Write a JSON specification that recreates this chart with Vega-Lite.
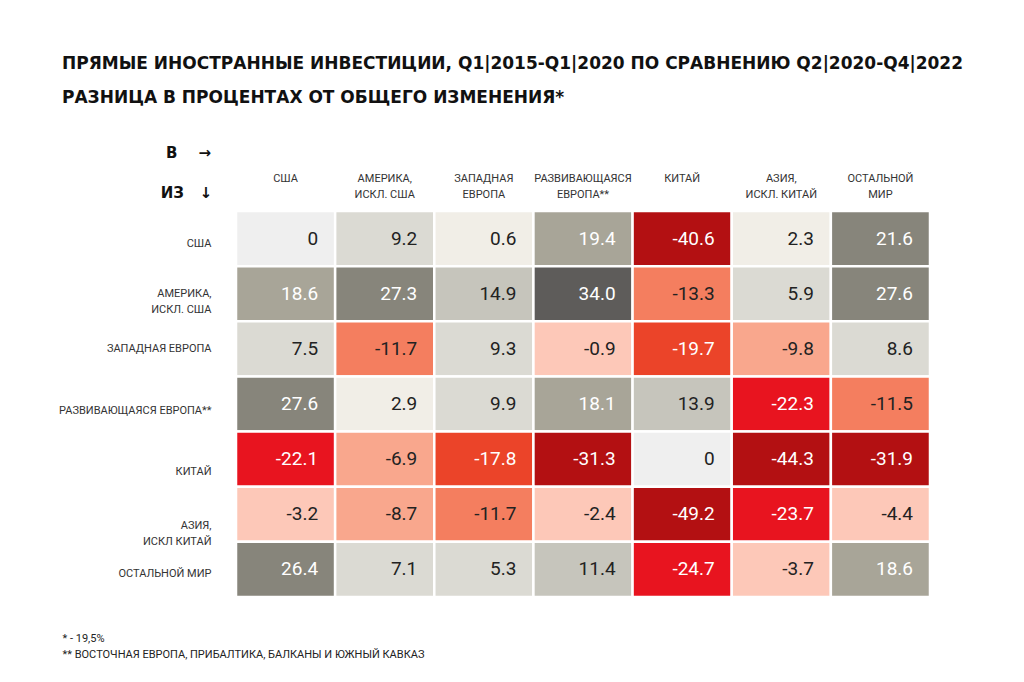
{
  "$schema": "https://vega.github.io/schema/vega-lite/v6.json",
  "width": 694,
  "height": 386,
  "autosize": {"type": "none"},
  "padding": {"left": 236, "top": 211, "right": 94, "bottom": 85},
  "background": "white",
  "config": {
    "view": {"stroke": null},
    "locale": {"number": {"decimal": ".", "thousands": ",", "grouping": [3], "currency": ["", ""], "minus": "-"}}
  },
  "title": {
    "text": "ПРЯМЫЕ ИНОСТРАННЫЕ ИНВЕСТИЦИИ, Q1|2015-Q1|2020 ПО СРАВНЕНИЮ Q2|2020-Q4|2022",
    "subtitle": "РАЗНИЦА В ПРОЦЕНТАХ ОТ ОБЩЕГО ИЗМЕНЕНИЯ*",
    "anchor": "start",
    "frame": "group",
    "dx": -174,
    "offset": 38,
    "font": "DejaVu Sans",
    "fontSize": 17,
    "fontWeight": "bold",
    "color": "#111111",
    "subtitleFont": "DejaVu Sans",
    "subtitleFontSize": 17,
    "subtitleFontWeight": "bold",
    "subtitleColor": "#111111",
    "subtitlePadding": 17
  },
  "data": {
    "values": [
      {"from": "США", "to": "США", "v": 0},
      {"from": "США", "to": "АМЕРИКА, ИСКЛ. США", "v": 9.2},
      {"from": "США", "to": "ЗАПАДНАЯ ЕВРОПА", "v": 0.6},
      {"from": "США", "to": "РАЗВИВАЮЩАЯСЯ ЕВРОПА**", "v": 19.4},
      {"from": "США", "to": "КИТАЙ", "v": -40.6},
      {"from": "США", "to": "АЗИЯ, ИСКЛ. КИТАЙ", "v": 2.3},
      {"from": "США", "to": "ОСТАЛЬНОЙ МИР", "v": 21.6},
      {"from": "АМЕРИКА, ИСКЛ. США", "to": "США", "v": 18.6},
      {"from": "АМЕРИКА, ИСКЛ. США", "to": "АМЕРИКА, ИСКЛ. США", "v": 27.3},
      {"from": "АМЕРИКА, ИСКЛ. США", "to": "ЗАПАДНАЯ ЕВРОПА", "v": 14.9},
      {"from": "АМЕРИКА, ИСКЛ. США", "to": "РАЗВИВАЮЩАЯСЯ ЕВРОПА**", "v": 34.0},
      {"from": "АМЕРИКА, ИСКЛ. США", "to": "КИТАЙ", "v": -13.3},
      {"from": "АМЕРИКА, ИСКЛ. США", "to": "АЗИЯ, ИСКЛ. КИТАЙ", "v": 5.9},
      {"from": "АМЕРИКА, ИСКЛ. США", "to": "ОСТАЛЬНОЙ МИР", "v": 27.6},
      {"from": "ЗАПАДНАЯ ЕВРОПА", "to": "США", "v": 7.5},
      {"from": "ЗАПАДНАЯ ЕВРОПА", "to": "АМЕРИКА, ИСКЛ. США", "v": -11.7},
      {"from": "ЗАПАДНАЯ ЕВРОПА", "to": "ЗАПАДНАЯ ЕВРОПА", "v": 9.3},
      {"from": "ЗАПАДНАЯ ЕВРОПА", "to": "РАЗВИВАЮЩАЯСЯ ЕВРОПА**", "v": -0.9},
      {"from": "ЗАПАДНАЯ ЕВРОПА", "to": "КИТАЙ", "v": -19.7},
      {"from": "ЗАПАДНАЯ ЕВРОПА", "to": "АЗИЯ, ИСКЛ. КИТАЙ", "v": -9.8},
      {"from": "ЗАПАДНАЯ ЕВРОПА", "to": "ОСТАЛЬНОЙ МИР", "v": 8.6},
      {"from": "РАЗВИВАЮЩАЯСЯ ЕВРОПА**", "to": "США", "v": 27.6},
      {"from": "РАЗВИВАЮЩАЯСЯ ЕВРОПА**", "to": "АМЕРИКА, ИСКЛ. США", "v": 2.9},
      {"from": "РАЗВИВАЮЩАЯСЯ ЕВРОПА**", "to": "ЗАПАДНАЯ ЕВРОПА", "v": 9.9},
      {"from": "РАЗВИВАЮЩАЯСЯ ЕВРОПА**", "to": "РАЗВИВАЮЩАЯСЯ ЕВРОПА**", "v": 18.1},
      {"from": "РАЗВИВАЮЩАЯСЯ ЕВРОПА**", "to": "КИТАЙ", "v": 13.9},
      {"from": "РАЗВИВАЮЩАЯСЯ ЕВРОПА**", "to": "АЗИЯ, ИСКЛ. КИТАЙ", "v": -22.3},
      {"from": "РАЗВИВАЮЩАЯСЯ ЕВРОПА**", "to": "ОСТАЛЬНОЙ МИР", "v": -11.5},
      {"from": "КИТАЙ", "to": "США", "v": -22.1},
      {"from": "КИТАЙ", "to": "АМЕРИКА, ИСКЛ. США", "v": -6.9},
      {"from": "КИТАЙ", "to": "ЗАПАДНАЯ ЕВРОПА", "v": -17.8},
      {"from": "КИТАЙ", "to": "РАЗВИВАЮЩАЯСЯ ЕВРОПА**", "v": -31.3},
      {"from": "КИТАЙ", "to": "КИТАЙ", "v": 0},
      {"from": "КИТАЙ", "to": "АЗИЯ, ИСКЛ. КИТАЙ", "v": -44.3},
      {"from": "КИТАЙ", "to": "ОСТАЛЬНОЙ МИР", "v": -31.9},
      {"from": "АЗИЯ, ИСКЛ КИТАЙ", "to": "США", "v": -3.2},
      {"from": "АЗИЯ, ИСКЛ КИТАЙ", "to": "АМЕРИКА, ИСКЛ. США", "v": -8.7},
      {"from": "АЗИЯ, ИСКЛ КИТАЙ", "to": "ЗАПАДНАЯ ЕВРОПА", "v": -11.7},
      {"from": "АЗИЯ, ИСКЛ КИТАЙ", "to": "РАЗВИВАЮЩАЯСЯ ЕВРОПА**", "v": -2.4},
      {"from": "АЗИЯ, ИСКЛ КИТАЙ", "to": "КИТАЙ", "v": -49.2},
      {"from": "АЗИЯ, ИСКЛ КИТАЙ", "to": "АЗИЯ, ИСКЛ. КИТАЙ", "v": -23.7},
      {"from": "АЗИЯ, ИСКЛ КИТАЙ", "to": "ОСТАЛЬНОЙ МИР", "v": -4.4},
      {"from": "ОСТАЛЬНОЙ МИР", "to": "США", "v": 26.4},
      {"from": "ОСТАЛЬНОЙ МИР", "to": "АМЕРИКА, ИСКЛ. США", "v": 7.1},
      {"from": "ОСТАЛЬНОЙ МИР", "to": "ЗАПАДНАЯ ЕВРОПА", "v": 5.3},
      {"from": "ОСТАЛЬНОЙ МИР", "to": "РАЗВИВАЮЩАЯСЯ ЕВРОПА**", "v": 11.4},
      {"from": "ОСТАЛЬНОЙ МИР", "to": "КИТАЙ", "v": -24.7},
      {"from": "ОСТАЛЬНОЙ МИР", "to": "АЗИЯ, ИСКЛ. КИТАЙ", "v": -3.7},
      {"from": "ОСТАЛЬНОЙ МИР", "to": "ОСТАЛЬНОЙ МИР", "v": 18.6}
    ]
  },
  "encoding": {
    "y": {
      "field": "from",
      "type": "nominal",
      "sort": ["США", "АМЕРИКА, ИСКЛ. США", "ЗАПАДНАЯ ЕВРОПА", "РАЗВИВАЮЩАЯСЯ ЕВРОПА**", "КИТАЙ", "АЗИЯ, ИСКЛ КИТАЙ", "ОСТАЛЬНОЙ МИР"],
      "scale": {"paddingInner": 0, "paddingOuter": 0},
      "axis": {
        "orient": "left",
        "domain": false,
        "ticks": false,
        "labelPadding": 25,
        "labelFont": "Roboto",
        "labelFontSize": 11,
        "labelColor": "#333333",
        "labelLineHeight": 16,
        "labelLimit": 300,
        "labelExpr": "indexof(datum.label, ', ') > 0 ? [slice(datum.label, 0, indexof(datum.label, ', ') + 1), slice(datum.label, indexof(datum.label, ', ') + 2)] : datum.label",
        "labelOffset": {
          "condition": [
            {"test": "datum.value == 'США'", "value": 5},
            {"test": "datum.value == 'РАЗВИВАЮЩАЯСЯ ЕВРОПА**'", "value": 7},
            {"test": "datum.value == 'КИТАЙ'", "value": 13},
            {"test": "datum.value == 'АЗИЯ, ИСКЛ КИТАЙ'", "value": 12},
            {"test": "datum.value == 'ОСТАЛЬНОЙ МИР'", "value": 5}
          ],
          "value": 0
        },
        "title": "ИЗ\u00a0\u00a0\u00a0↓",
        "titleAngle": 0,
        "titleX": -50,
        "titleY": -19,
        "titleAlign": "center",
        "titleBaseline": "middle",
        "titleFont": "DejaVu Sans",
        "titleFontSize": 15,
        "titleFontWeight": "bold",
        "titleColor": "#111111"
      }
    }
  },
  "layer": [
    {
      "mark": {"type": "rect", "stroke": "white", "strokeWidth": 2.5},
      "encoding": {
        "x": {
          "field": "to",
          "type": "nominal",
          "sort": ["США", "АМЕРИКА, ИСКЛ. США", "ЗАПАДНАЯ ЕВРОПА", "РАЗВИВАЮЩАЯСЯ ЕВРОПА**", "КИТАЙ", "АЗИЯ, ИСКЛ. КИТАЙ", "ОСТАЛЬНОЙ МИР"],
          "scale": {"paddingInner": 0, "paddingOuter": 0},
          "axis": {
            "orient": "top",
            "domain": false,
            "ticks": false,
            "labelAngle": 0,
            "labelPadding": 33,
            "labelBaseline": "middle",
            "labelFont": "Roboto",
            "labelFontSize": 11,
            "labelColor": "#333333",
            "labelLineHeight": 16,
            "labelLimit": 200,
            "labelExpr": "indexof(datum.label, ', ') > 0 ? [slice(datum.label, 0, indexof(datum.label, ', ') + 1), slice(datum.label, indexof(datum.label, ', ') + 2)] : split(datum.label, ' ')",
            "title": "В\u00a0\u00a0\u00a0\u00a0→",
            "titleX": -48,
            "titleY": -59,
            "titleAlign": "center",
            "titleBaseline": "middle",
            "titleFont": "DejaVu Sans",
            "titleFontSize": 15,
            "titleFontWeight": "bold",
            "titleColor": "#111111"
          }
        },
        "color": {
          "field": "v",
          "type": "quantitative",
          "scale": {
            "type": "threshold",
            "domain": [-30, -20, -15, -10, -5, 0, 0.1, 5, 10, 15, 20, 30],
            "range": ["#b31012", "#e8141f", "#eb4429", "#f47e5f", "#f9a78d", "#fdc8b8", "#efefef", "#f1eee7", "#dbdad3", "#c6c5bc", "#a8a598", "#87857b", "#5e5c5a"]
          },
          "legend": null
        }
      }
    },
    {
      "mark": {"type": "text", "align": "right", "baseline": "middle", "dx": -17, "font": "Roboto", "fontSize": 19},
      "encoding": {
        "x": {
          "field": "to",
          "type": "nominal",
          "bandPosition": 1,
          "sort": ["США", "АМЕРИКА, ИСКЛ. США", "ЗАПАДНАЯ ЕВРОПА", "РАЗВИВАЮЩАЯСЯ ЕВРОПА**", "КИТАЙ", "АЗИЯ, ИСКЛ. КИТАЙ", "ОСТАЛЬНОЙ МИР"],
          "axis": {
            "orient": "bottom",
            "domain": false,
            "ticks": false,
            "labels": false,
            "title": ["* - 19,5%", "** ВОСТОЧНАЯ ЕВРОПА, ПРИБАЛТИКА, БАЛКАНЫ И ЮЖНЫЙ КАВКАЗ"],
            "titleX": -174,
            "titleY": 35,
            "titleAlign": "left",
            "titleBaseline": "top",
            "titleFont": "Roboto",
            "titleFontSize": 11,
            "titleFontWeight": "normal",
            "titleLineHeight": 16,
            "titleColor": "#222222"
          }
        },
        "text": {
          "condition": {"test": "datum.v == 0", "value": "0"},
          "field": "v",
          "type": "quantitative",
          "format": ".1f"
        },
        "color": {
          "condition": {"test": "abs(datum.v) >= 15", "value": "white"},
          "value": "#222222"
        }
      }
    }
  ],
  "resolve": {"axis": {"x": "independent"}}
}
